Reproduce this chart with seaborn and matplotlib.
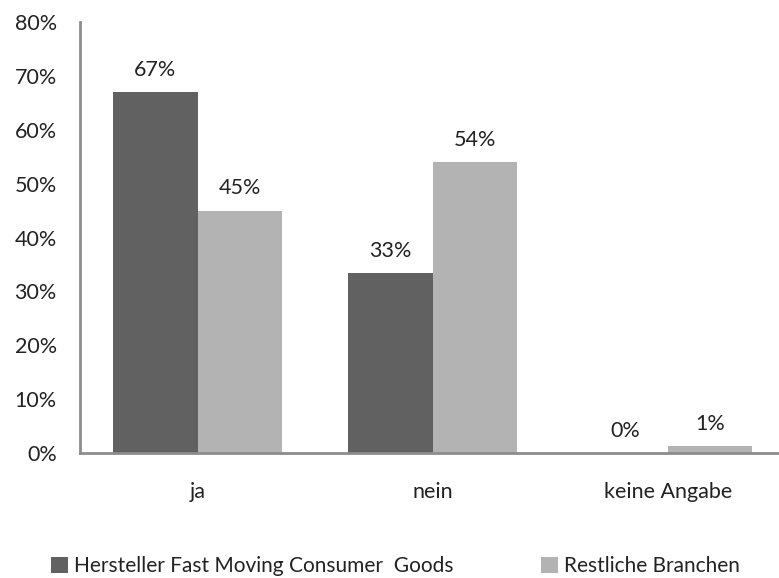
import pandas as pd
import seaborn as sns
import matplotlib.pyplot as plt
from matplotlib.ticker import PercentFormatter

# values
categories = ['ja', 'nein', 'keine Angabe']
series_names = ['Hersteller Fast Moving Consumer  Goods', 'Restliche Branchen']
fmcg = [0.67, 0.334, 0.0]
rest = [0.45, 0.54, 0.013]

df = pd.DataFrame({
    'Antwort': categories * 2,
    'Gruppe': [series_names[0]] * 3 + [series_names[1]] * 3,
    'Anteil': fmcg + rest,
})

sns.set_style('white')
plt.rcParams['font.family'] = ['Lato', 'DejaVu Sans']

fig = plt.figure(figsize=(7.79, 5.78), dpi=100)
ax = fig.add_axes([0.103, 0.216, 0.905, 0.746])

palette = {series_names[0]: '#616161', series_names[1]: '#b3b3b3'}
sns.barplot(data=df, x='Antwort', y='Anteil', hue='Gruppe', palette=palette,
            width=0.72, gap=0, saturation=1, linewidth=0, ax=ax)

for c in ax.containers:
    ax.bar_label(c, labels=[f'{v:.0%}' for v in c.datavalues], padding=9,
                 fontsize=15.5, color='#222222')

ax.set_ylim(0, 0.8)
ax.set_xlim(-0.5, 2.5)
ax.yaxis.set_major_formatter(PercentFormatter(1.0, decimals=0))
ax.set_yticks([i / 10 for i in range(9)])
ax.tick_params(axis='y', length=0, pad=17, labelsize=15.5, labelcolor='#222222')
ax.tick_params(axis='x', length=0, pad=21, labelsize=15.5, labelcolor='#222222')
ax.set_xlabel('')
ax.set_ylabel('')

for s in ['top', 'right']:
    ax.spines[s].set_visible(False)
for s in ['left', 'bottom']:
    ax.spines[s].set_color('#8c8c8c')
    ax.spines[s].set_linewidth(2)

ax.legend(loc='upper center', bbox_to_anchor=(0.447, -0.195), ncol=2, frameon=False,
          fontsize=15, handlelength=0.8, handleheight=0.8, handletextpad=0.3,
          columnspacing=4.2, title=None, labelcolor='#222222')

fig.savefig('out.png', dpi=100)
